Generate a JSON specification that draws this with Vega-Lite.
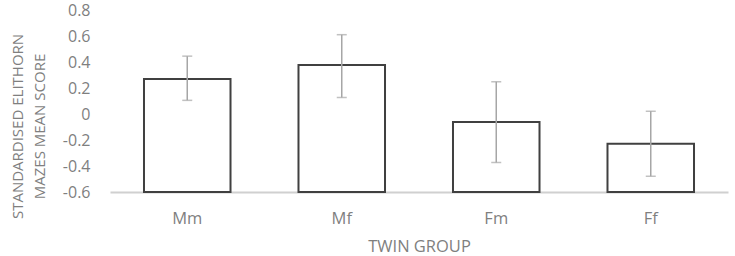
{
  "$schema": "https://vega.github.io/schema/vega-lite/v6.json",
  "width": 618,
  "height": 182,
  "autosize": {"type": "none"},
  "padding": {"left": 110, "top": 10, "right": 7, "bottom": 64},
  "background": "white",
  "config": {
    "view": {"stroke": null},
    "font": "Open Sans"
  },
  "data": {
    "values": [
      {"group": "Mm", "mean": 0.27, "lo": 0.105, "hi": 0.445},
      {"group": "Mf", "mean": 0.377, "lo": 0.127, "hi": 0.61},
      {"group": "Fm", "mean": -0.062, "lo": -0.373, "hi": 0.248},
      {"group": "Ff", "mean": -0.229, "lo": -0.479, "hi": 0.021}
    ]
  },
  "encoding": {
    "x": {
      "field": "group",
      "type": "nominal",
      "sort": null,
      "scale": {"paddingInner": 0.44, "paddingOuter": 0.22},
      "axis": {
        "title": "TWIN GROUP",
        "labelAngle": 0,
        "labelFontSize": 16.5,
        "labelColor": "#7f7f7f",
        "labelPadding": 18,
        "ticks": false,
        "domainColor": "#d0d0d0",
        "domainWidth": 2,
        "titleFontSize": 16.5,
        "titleFontWeight": "normal",
        "titleColor": "#7f7f7f",
        "titleBaseline": "middle",
        "titleY": 54
      }
    },
    "y": {
      "field": "mean",
      "type": "quantitative",
      "scale": {"domain": [-0.6, 0.8], "nice": false, "zero": false},
      "axis": {
        "values": [-0.6, -0.4, -0.2, 0, 0.2, 0.4, 0.6, 0.8],
        "labelExpr": "datum.value == 0 ? '0' : replace(format(datum.value, '.1f'), '−', '-')",
        "labelOverlap": false,
        "domain": false,
        "ticks": false,
        "grid": false,
        "labelPadding": 20,
        "labelFontSize": 16,
        "labelColor": "#7f7f7f",
        "title": ["STANDARDISED ELITHORN", "MAZES MEAN SCORE"],
        "titleFontSize": 15,
        "titleFontWeight": "normal",
        "titleColor": "#7f7f7f",
        "titleLineHeight": 22,
        "titleAngle": -90,
        "titleAlign": "center",
        "titleBaseline": "alphabetic",
        "titleX": -88,
        "titleY": 116
      }
    }
  },
  "layer": [
    {
      "mark": {"type": "bar", "fill": "white", "stroke": "#404040", "strokeWidth": 2},
      "encoding": {
        "y2": {"datum": -0.6}
      }
    },
    {
      "mark": {"type": "rule", "color": "#a6a6a6", "strokeWidth": 1.5},
      "encoding": {
        "y": {"field": "lo", "type": "quantitative"},
        "y2": {"field": "hi"}
      }
    },
    {
      "mark": {"type": "tick", "color": "#a6a6a6", "size": 10, "thickness": 1.5},
      "encoding": {"y": {"field": "hi", "type": "quantitative"}}
    },
    {
      "mark": {"type": "tick", "color": "#a6a6a6", "size": 10, "thickness": 1.5},
      "encoding": {"y": {"field": "lo", "type": "quantitative"}}
    }
  ]
}
